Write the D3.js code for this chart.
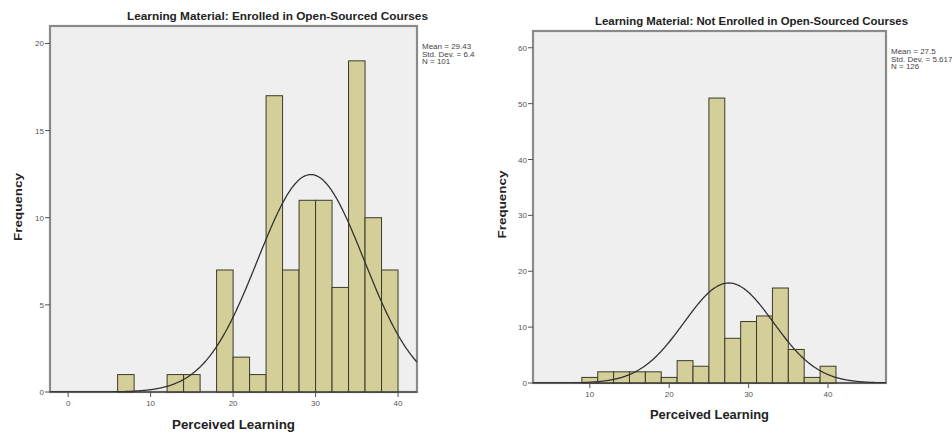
<!DOCTYPE html>
<html>
<head>
<meta charset="utf-8">
<script src="https://cdn.jsdelivr.net/npm/d3@7"></script>
<style>
  body { margin: 0; background: #fff; }
  text { font-family: "Liberation Sans", Arial, sans-serif; }
</style>
</head>
<body>
<svg width="952" height="433"></svg>
<script>
// Enrolled: bin start values (width 2) and counts
const enrolledStart = [6, 8, 10, 12, 14, 16, 18, 20, 22, 24, 26, 28, 30, 32, 34, 36, 38];
const enrolledCounts = [1, 0, 0, 1, 1, 0, 7, 2, 1, 17, 7, 11, 11, 6, 19, 10, 7];
const enrolledStats = ["Mean = 29.43", "Std. Dev. = 6.458", "N = 101"];
const enrolledMean = 29.43, enrolledSd = 6.458, enrolledN = 101;
const enrolledXTicks = [0, 10, 20, 30, 40];
const enrolledYTicks = [0, 5, 10, 15, 20];

// Not enrolled
const notEnrolledStart = [9, 11, 13, 15, 17, 19, 21, 23, 25, 27, 29, 31, 33, 35, 37, 39];
const notEnrolledCounts = [1, 2, 2, 2, 2, 1, 4, 3, 51, 8, 11, 12, 17, 6, 1, 3];
const notEnrolledStats = ["Mean = 27.5", "Std. Dev. = 5.617", "N = 126"];
const notEnrolledMean = 27.5, notEnrolledSd = 5.617, notEnrolledN = 126;
const notEnrolledXTicks = [10, 20, 30, 40];
const notEnrolledYTicks = [0, 10, 20, 30, 40, 50, 60];

const binWidth = 2;

const svg = d3.select("svg");

function drawPanel(p) {
  const g = svg.append("g");

  const x = d3.scaleLinear().domain(p.xDomain).range([p.left, p.right]);
  const y = d3.scaleLinear().domain(p.yDomain).range([p.bottom, p.top]);

  // plot background + frame
  g.append("rect")
    .attr("x", p.left).attr("y", p.top)
    .attr("width", p.right - p.left).attr("height", p.bottom - p.top)
    .attr("fill", "#efefef")
    .attr("stroke", "#8a8a8a")
    .attr("stroke-width", 2.2);

  const clipId = "clip-" + p.id;
  g.append("clipPath").attr("id", clipId)
    .append("rect")
    .attr("x", p.left).attr("y", p.top)
    .attr("width", p.right - p.left).attr("height", p.bottom - p.top);

  // bars
  const bins = p.start.map((s, i) => ({ x0: s, x1: s + binWidth, n: p.counts[i] }));
  g.append("g")
    .selectAll("rect")
    .data(bins.filter(d => d.n > 0))
    .enter()
    .append("rect")
    .attr("x", d => x(d.x0))
    .attr("y", d => y(d.n))
    .attr("width", d => x(d.x1) - x(d.x0))
    .attr("height", d => y(0) - y(d.n))
    .attr("fill", "#d4cf98")
    .attr("stroke", "#3b3b2c")
    .attr("stroke-width", 1);

  // normal curve
  const k = p.n * binWidth / (p.sd * Math.sqrt(2 * Math.PI));
  const pts = d3.range(p.xDomain[0], p.xDomain[1] + 0.1, 0.1)
    .map(v => [v, k * Math.exp(-0.5 * Math.pow((v - p.mean) / p.sd, 2))]);
  g.append("path")
    .datum(pts)
    .attr("clip-path", `url(#${clipId})`)
    .attr("fill", "none")
    .attr("stroke", "#333")
    .attr("stroke-width", 1.3)
    .attr("d", d3.line().x(d => x(d[0])).y(d => y(d[1])).curve(d3.curveBasis));

  // x axis line
  g.append("line")
    .attr("x1", p.left).attr("x2", p.right)
    .attr("y1", p.bottom).attr("y2", p.bottom)
    .attr("stroke", "#333").attr("stroke-width", 1.2);

  // y ticks
  const yt = g.append("g").selectAll("g").data(p.yTicks).enter().append("g");
  yt.append("line")
    .attr("x1", p.left - 5).attr("x2", p.left)
    .attr("y1", d => y(d)).attr("y2", d => y(d))
    .attr("stroke", "#555");
  yt.append("text")
    .attr("x", p.left - 6).attr("y", d => y(d) + 3)
    .attr("text-anchor", "end")
    .attr("font-size", 8)
    .attr("fill", "#555")
    .text(d => d);

  // x ticks
  const xt = g.append("g").selectAll("g").data(p.xTicks).enter().append("g");
  xt.append("line")
    .attr("x1", d => x(d)).attr("x2", d => x(d))
    .attr("y1", p.bottom).attr("y2", p.bottom + 5)
    .attr("stroke", "#555");
  xt.append("text")
    .attr("x", d => x(d)).attr("y", p.bottom + 14)
    .attr("text-anchor", "middle")
    .attr("font-size", 8)
    .attr("fill", "#555")
    .text(d => d);

  // title
  g.append("text")
    .attr("x", p.titleX).attr("y", p.titleY)
    .attr("text-anchor", "middle")
    .attr("font-size", 11)
    .attr("font-weight", "bold")
    .attr("fill", "#222")
    .attr("textLength", p.titleLen)
    .attr("lengthAdjust", "spacingAndGlyphs")
    .text(p.title);

  // x label
  g.append("text")
    .attr("x", (p.xLabelX)).attr("y", p.xLabelY)
    .attr("text-anchor", "middle")
    .attr("font-size", 12)
    .attr("font-weight", "bold")
    .attr("fill", "#222")
    .attr("textLength", p.xLabelLen)
    .attr("lengthAdjust", "spacingAndGlyphs")
    .text("Perceived Learning");

  // y label
  g.append("text")
    .attr("transform", `translate(${p.yLabelX},${p.yLabelY}) rotate(-90)`)
    .attr("text-anchor", "middle")
    .attr("font-size", 11)
    .attr("font-weight", "bold")
    .attr("fill", "#222")
    .attr("textLength", 68)
    .attr("lengthAdjust", "spacingAndGlyphs")
    .text("Frequency");

  // stats text, clipped at the picture edge
  const statClip = "sclip-" + p.id;
  g.append("clipPath").attr("id", statClip)
    .append("rect")
    .attr("x", p.right).attr("y", 0)
    .attr("width", p.statClipX - p.right).attr("height", 120);
  g.append("g")
    .attr("clip-path", `url(#${statClip})`)
    .selectAll("text")
    .data(p.stats)
    .enter()
    .append("text")
    .attr("x", p.right + 5)
    .attr("y", (d, i) => p.statY + i * 7.5)
    .attr("font-size", 8)
    .attr("fill", "#444")
    .text(d => d);
}

drawPanel({
  id: "a",
  left: 50, right: 417, top: 26, bottom: 392,
  xDomain: [-2.2, 42.3], yDomain: [0, 21],
  start: enrolledStart, counts: enrolledCounts,
  mean: enrolledMean, sd: enrolledSd, n: enrolledN,
  xTicks: enrolledXTicks, yTicks: enrolledYTicks,
  title: "Learning Material: Enrolled in Open-Sourced Courses",
  titleX: 277.5, titleY: 20, titleLen: 301,
  xLabelX: 233.5, xLabelY: 429, xLabelLen: 123,
  yLabelX: 22, yLabelY: 207,
  stats: enrolledStats, statY: 49, statClipX: 475
});

drawPanel({
  id: "b",
  left: 533, right: 886, top: 31, bottom: 383,
  xDomain: [2.85, 47.3], yDomain: [0, 63],
  start: notEnrolledStart, counts: notEnrolledCounts,
  mean: notEnrolledMean, sd: notEnrolledSd, n: notEnrolledN,
  xTicks: notEnrolledXTicks, yTicks: notEnrolledYTicks,
  title: "Learning Material: Not Enrolled in Open-Sourced Courses",
  titleX: 751.5, titleY: 25, titleLen: 313,
  xLabelX: 709.5, xLabelY: 419, xLabelLen: 119,
  yLabelX: 506, yLabelY: 204.5,
  stats: notEnrolledStats, statY: 54, statClipX: 952
});
</script>
</body>
</html>
